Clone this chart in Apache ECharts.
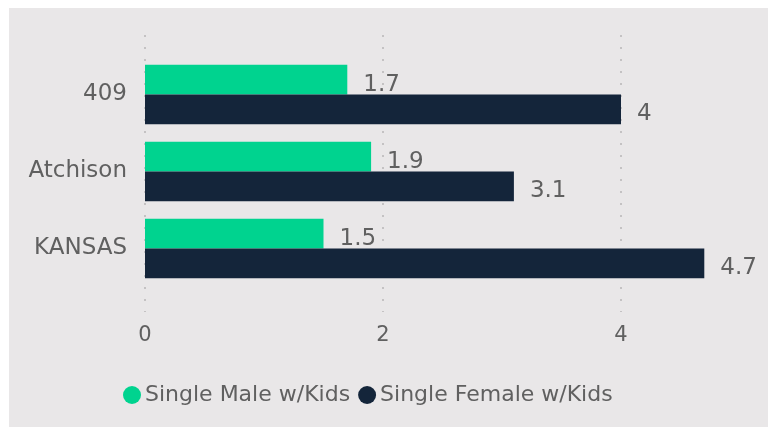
<!DOCTYPE html>
<html>
<head>
<meta charset="utf-8">
<script src="https://cdn.jsdelivr.net/npm/echarts@6/dist/echarts.min.js"></script>
<style>
  html, body { margin: 0; padding: 0; background: #ffffff; }
  #main { position: absolute; left: 9px; top: 8px; width: 759px; height: 419px; background: #e9e7e8; }
</style>
</head>
<body>
<div id="main"></div>
<script>
  // data
  const categories = ['409', 'Atchison', 'KANSAS'];
  const maleKids = [1.7, 1.9, 1.5];
  const femaleKids = [4, 3.1, 4.7];
  const seriesNames = ['Single Male w/Kids', 'Single Female w/Kids'];

  const FONT = 'DejaVu Sans';
  const TEXT = '#606060';

  const myChart = echarts.init(document.getElementById('main'));

  myChart.setOption({
    animation: false,
    textStyle: { fontFamily: FONT },
    legend: {
      data: seriesNames,
      left: 109,
      top: 371,
      icon: 'circle',
      itemWidth: 18,
      itemHeight: 18,
      itemGap: 8,
      textStyle: { fontFamily: FONT, fontSize: 22, color: TEXT, padding: [0, 0, 0, -1] }
    },
    grid: [
      // bars (0..5)
      { left: 136, top: 48, height: 231, width: 595 },
      // dotted split lines and tick labels (0..4)
      { left: 136, top: 27, height: 277, width: 476 }
    ],
    xAxis: [
      {
        gridIndex: 0, type: 'value', min: 0, max: 5,
        axisLine: { show: false }, axisTick: { show: false },
        axisLabel: { show: false }, splitLine: { show: false }
      },
      {
        gridIndex: 1, type: 'value', min: 0, max: 4, interval: 2,
        axisLine: { show: false }, axisTick: { show: false },
        axisLabel: { fontFamily: FONT, fontSize: 21, color: TEXT, margin: 13 },
        splitLine: { show: true, lineStyle: { color: '#c4c2c3', width: 2, type: [2, 10] } }
      }
    ],
    yAxis: [
      {
        gridIndex: 0, type: 'category', data: categories, inverse: true,
        axisLine: { show: false }, axisTick: { show: false },
        axisLabel: { fontFamily: FONT, fontSize: 23, color: TEXT, margin: 18 }
      },
      {
        gridIndex: 1, type: 'value', show: false
      }
    ],
    series: [
      {
        name: seriesNames[0], type: 'bar', xAxisIndex: 0, yAxisIndex: 0,
        data: maleKids, barGap: '0%', barCategoryGap: '23%',
        itemStyle: { color: '#00d38f' },
        label: { show: true, position: 'right', distance: 16, offset: [0, 5],
                 fontFamily: FONT, fontSize: 23, color: TEXT }
      },
      {
        name: seriesNames[1], type: 'bar', xAxisIndex: 0, yAxisIndex: 0,
        data: femaleKids, barGap: '0%', barCategoryGap: '23%',
        itemStyle: { color: '#14253a' },
        label: { show: true, position: 'right', distance: 16, offset: [0, 5],
                 fontFamily: FONT, fontSize: 23, color: TEXT }
      }
    ]
  });
</script>
</body>
</html>
